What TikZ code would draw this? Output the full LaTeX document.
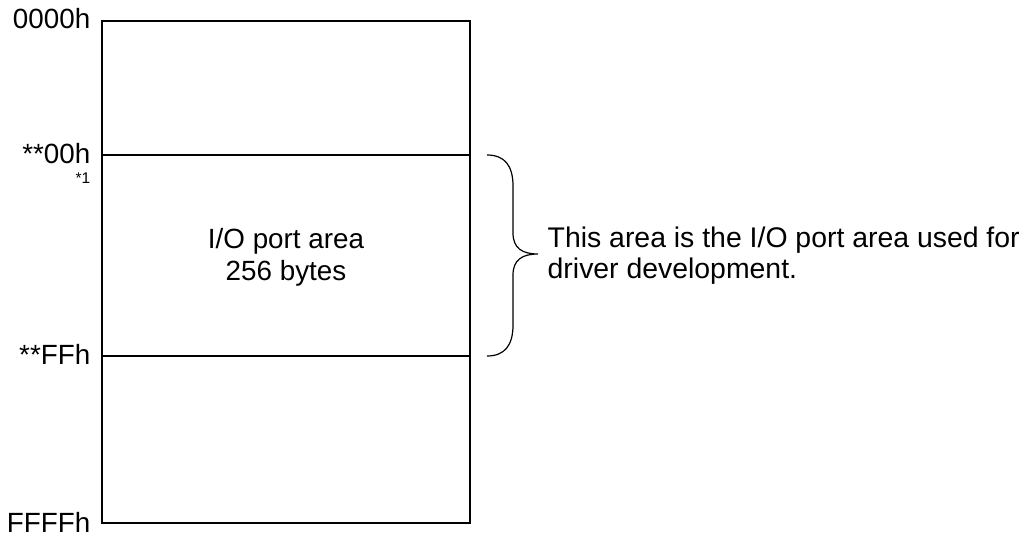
\documentclass[tikz,border=0pt]{standalone}
\usepackage{fontspec}
\setmainfont{Liberation Sans}
\begin{document}
\begin{tikzpicture}[x=1pt, y=-1pt, line width=1.4pt,
  addr/.style={anchor=base east, inner sep=0pt, font=\fontsize{27.8}{31.5}\selectfont},
  note/.style={anchor=base east, inner sep=0pt, font=\fontsize{15.5}{18}\selectfont},
  label/.style={anchor=base, inner sep=0pt, font=\fontsize{27.8}{31.5}\selectfont},
  side/.style={anchor=base west, inner sep=0pt, font=\fontsize{28.4}{31.5}\selectfont}]
\useasboundingbox (0,0) rectangle (1026,538);

% memory map outline and region boundaries
\coordinate (tl) at (102,21);
\coordinate (br) at (470,523);
\coordinate (s0) at (102,155);
\coordinate (s1) at (470,155);
\coordinate (e0) at (102,356);
\coordinate (e1) at (470,356);
\draw (tl) rectangle (br);
\draw (s0) -- (s1);
\draw (e0) -- (e1);

% address labels
\node[addr] (a0000) at (91,28) {0000h};
\node[addr] (a00) at (91,163) {**00h};
\node[note] (n1) at (91,183) {*1};
\node[addr] (aff) at (91,364) {**FFh};
\node[addr] (affff) at (91,532) {FFFFh};

% region text
\node[label] (io1) at (286,248) {I/O port area};
\node[label] (io2) at (286,280) {256 bytes};

% brace around the I/O port region
\coordinate (bt) at (487,155);
\coordinate (bb) at (487,356);
\coordinate (tip) at (538,254);
\draw[line width=1.2pt] (bt) .. controls (505,155) and (513,166) .. (513,186)
  -- (513,233) .. controls (513,248) and (522,254) .. (tip)
  .. controls (522,254) and (513,260) .. (513,275)
  -- (513,325) .. controls (513,345) and (505,356) .. (bb);

% explanatory text
\node[side] (t1) at (547,247) {This area is the I/O port area used for};
\node[side] (t2) at (547,278) {driver development.};
\end{tikzpicture}
\end{document}
